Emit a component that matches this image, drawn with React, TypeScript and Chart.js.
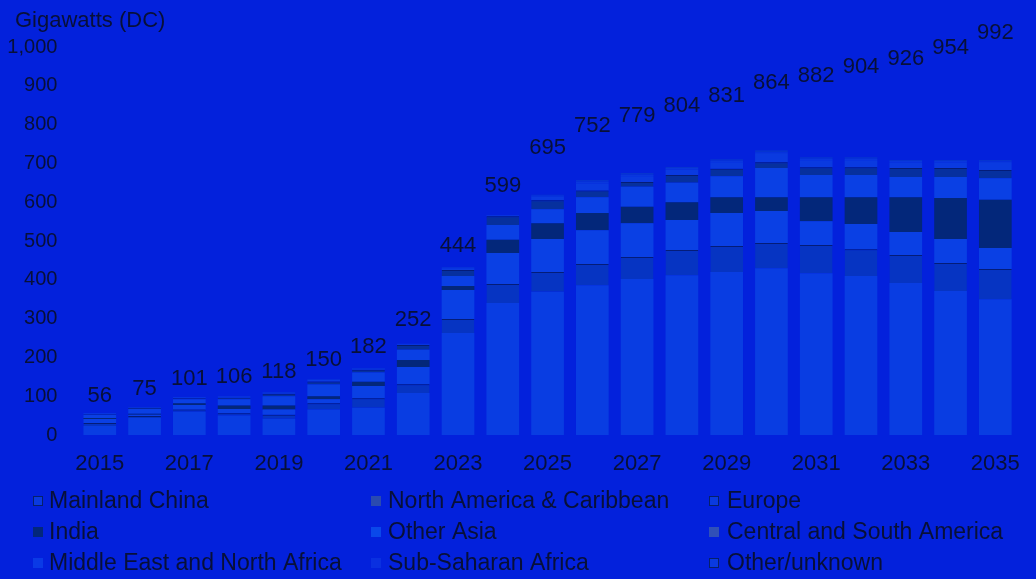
import React, { useEffect, useRef } from "react";
import { Chart, registerables } from "chart.js";

Chart.register(...registerables);

const years = ["2015","2016","2017","2018","2019","2020","2021","2022","2023","2024","2025","2026","2027","2028","2029","2030","2031","2032","2033","2034","2035"];
const totals = [56, 75, 101, 106, 118, 150, 182, 252, 444, 599, 695, 752, 779, 804, 831, 864, 882, 904, 926, 954, 992];

const mainlandChina = [23, 44, 60, 50, 42, 66, 70, 108, 263, 340, 369, 386, 402, 412, 420, 430, 417, 410, 392, 371, 350];
const northAmerica = [8, 5, 6, 6, 10, 16, 25, 23, 36, 49, 51, 55, 57, 65, 67, 65, 73, 69, 72, 72, 78];
const europe = [10, 3, 11, 11, 14, 10, 31, 44, 75, 80, 85, 87, 87, 77, 85, 82, 61, 65, 59, 62, 54];
const india = [3, 3, 5, 9, 10, 8, 11, 18, 10, 34, 41, 44, 42, 46, 41, 36, 62, 69, 90, 106, 124];
const otherAsia = [8, 12, 10, 16, 24, 30, 24, 27, 26, 38, 36, 41, 52, 50, 54, 75, 57, 57, 52, 54, 56];
const centralSouthAmerica = [2, 3, 3, 4, 6, 8, 7, 12, 15, 23, 23, 17, 12, 20, 19, 15, 20, 20, 23, 23, 21];
const middleEastNorthAfrica = [2, 2, 2, 3, 3, 4, 3, 2, 5, 2, 9, 18, 15, 14, 17, 21, 18, 18, 14, 14, 18];
const subSaharanAfrica = [1, 0, 1, 1, 1, 1, 1, 1, 2, 1, 3, 5, 4, 4, 4, 5, 4, 4, 4, 4, 4];
const otherUnknown = [0, 0, 0, 0, 1, 1, 1, 0, 1, 0, 2, 4, 4, 3, 4, 5, 4, 4, 3, 3, 4];

const yTicks = [0, 100, 200, 300, 400, 500, 600, 700, 800, 900, 1000];

const seriesNames = [
  "Mainland China",
  "North America & Caribbean",
  "Europe",
  "India",
  "Other Asia",
  "Central and South America",
  "Middle East and North Africa",
  "Sub-Saharan Africa",
  "Other/unknown",
];
const seriesData = [
  mainlandChina,
  northAmerica,
  europe,
  india,
  otherAsia,
  centralSouthAmerica,
  middleEastNorthAfrica,
  subSaharanAfrica,
  otherUnknown,
];

const BG = "#0321DC";
const TEXT = "#081038";
const FONT = "'Liberation Sans', Arial, sans-serif";

const seriesColors = [
  "#093DE2",
  "#0634C2",
  "#0A40E4",
  "#03277A",
  "#0A40E4",
  "#06309E",
  "#0A3AE0",
  "#0937DD",
  "#0634D0",
];
const legendMarkers = [
  { fill: "#0A3AE0", stroke: "#06206A" },
  { fill: "#2A4AB0", stroke: "#2A4AB0" },
  { fill: "#0A3AE0", stroke: "#06206A" },
  { fill: "#03277A", stroke: "#03277A" },
  { fill: "#0A48EA", stroke: "#0A48EA" },
  { fill: "#3050B8", stroke: "#3050B8" },
  { fill: "#0A3AE6", stroke: "#0A3AE6" },
  { fill: "#0A30E0", stroke: "#0A30E0" },
  { fill: "#0A3AE0", stroke: "#06206A" },
];

const overlayPlugin = {
  id: "overlay",
  afterDatasetsDraw(chart: any) {
    const ctx = chart.ctx;
    const xs = chart.scales.x;
    const ys = chart.scales.y;
    ctx.save();
    ctx.fillStyle = TEXT;
    ctx.font = `22px ${FONT}`;
    ctx.textAlign = "left";
    ctx.textBaseline = "middle";
    ctx.fillText("Gigawatts (DC)", 15, 21);
    ctx.font = `22px ${FONT}`;
    ctx.textAlign = "center";
    ctx.textBaseline = "middle";
    totals.forEach((t, i) => {
      const x = xs.getPixelForValue(i);
      const y = ys.getPixelForValue(t) - 17;
      ctx.fillText(String(t), x, y);
    });
    const colX = [33, 371, 709];
    const textX = [49, 388, 727];
    const rowY = [501, 532, 563];
    ctx.font = `23px ${FONT}`;
    ctx.textAlign = "left";
    seriesNames.forEach((name, i) => {
      const c = i % 3;
      const r = Math.floor(i / 3);
      const m = legendMarkers[i];
      ctx.fillStyle = m.fill;
      ctx.fillRect(colX[c], rowY[r] - 5, 10, 10);
      ctx.strokeStyle = m.stroke;
      ctx.lineWidth = 1;
      ctx.strokeRect(colX[c] + 0.5, rowY[r] - 4.5, 9, 9);
      ctx.fillStyle = TEXT;
      ctx.fillText(name, textX[c], rowY[r] + 1);
    });
    ctx.restore();
  },
};

export default function App() {
  const ref = useRef<HTMLCanvasElement | null>(null);
  useEffect(() => {
    if (!ref.current) return;
    const chart = new Chart(ref.current, {
      type: "bar",
      data: {
        labels: years,
        datasets: seriesData.map((d, i) => ({
          label: seriesNames[i],
          data: d,
          backgroundColor: seriesColors[i],
          borderColor: "#041C78",
          borderWidth: i === 1 || i === 5 ? { top: 1, left: 0, right: 0, bottom: 0 } : 0,
          borderSkipped: false,
          categoryPercentage: 1,
          barPercentage: 0.73,
        })),
      },
      options: {
        animation: false,
        responsive: false,
        devicePixelRatio: 1,
        layout: { padding: { top: 47, right: 8.4, left: 0, bottom: 104 } },
        plugins: {
          legend: { display: false },
          tooltip: { enabled: false },
          title: { display: false },
        },
        scales: {
          x: {
            stacked: true,
            grid: { display: false, drawTicks: false },
            border: { display: false },
            ticks: {
              autoSkip: false,
              maxRotation: 0,
              padding: 16,
              color: TEXT,
              font: { family: FONT, size: 22 },
              callback: (_v: any, idx: number) => (idx % 2 === 0 ? years[idx] : ""),
            },
            afterFit: (s: any) => {
              s.height = 40;
            },
          },
          y: {
            stacked: true,
            min: 0,
            max: 1000,
            grid: { display: false, drawTicks: false },
            border: { display: false },
            afterBuildTicks: (s: any) => {
              s.ticks = yTicks.map((v) => ({ value: v }));
            },
            ticks: {
              padding: 20,
              color: TEXT,
              font: { family: FONT, size: 20 },
              callback: (v: any) => Number(v).toLocaleString("en-US"),
            },
            afterFit: (s: any) => {
              s.width = 77.4;
            },
          },
        },
      },
      plugins: [overlayPlugin],
    } as any);
    return () => chart.destroy();
  }, []);
  return (
    <div style={{ position: "fixed", left: 0, top: 0, width: 1036, height: 579, background: BG }}>
      <canvas ref={ref} width={1036} height={579} style={{ display: "block", width: 1036, height: 579 }} />
    </div>
  );
}
